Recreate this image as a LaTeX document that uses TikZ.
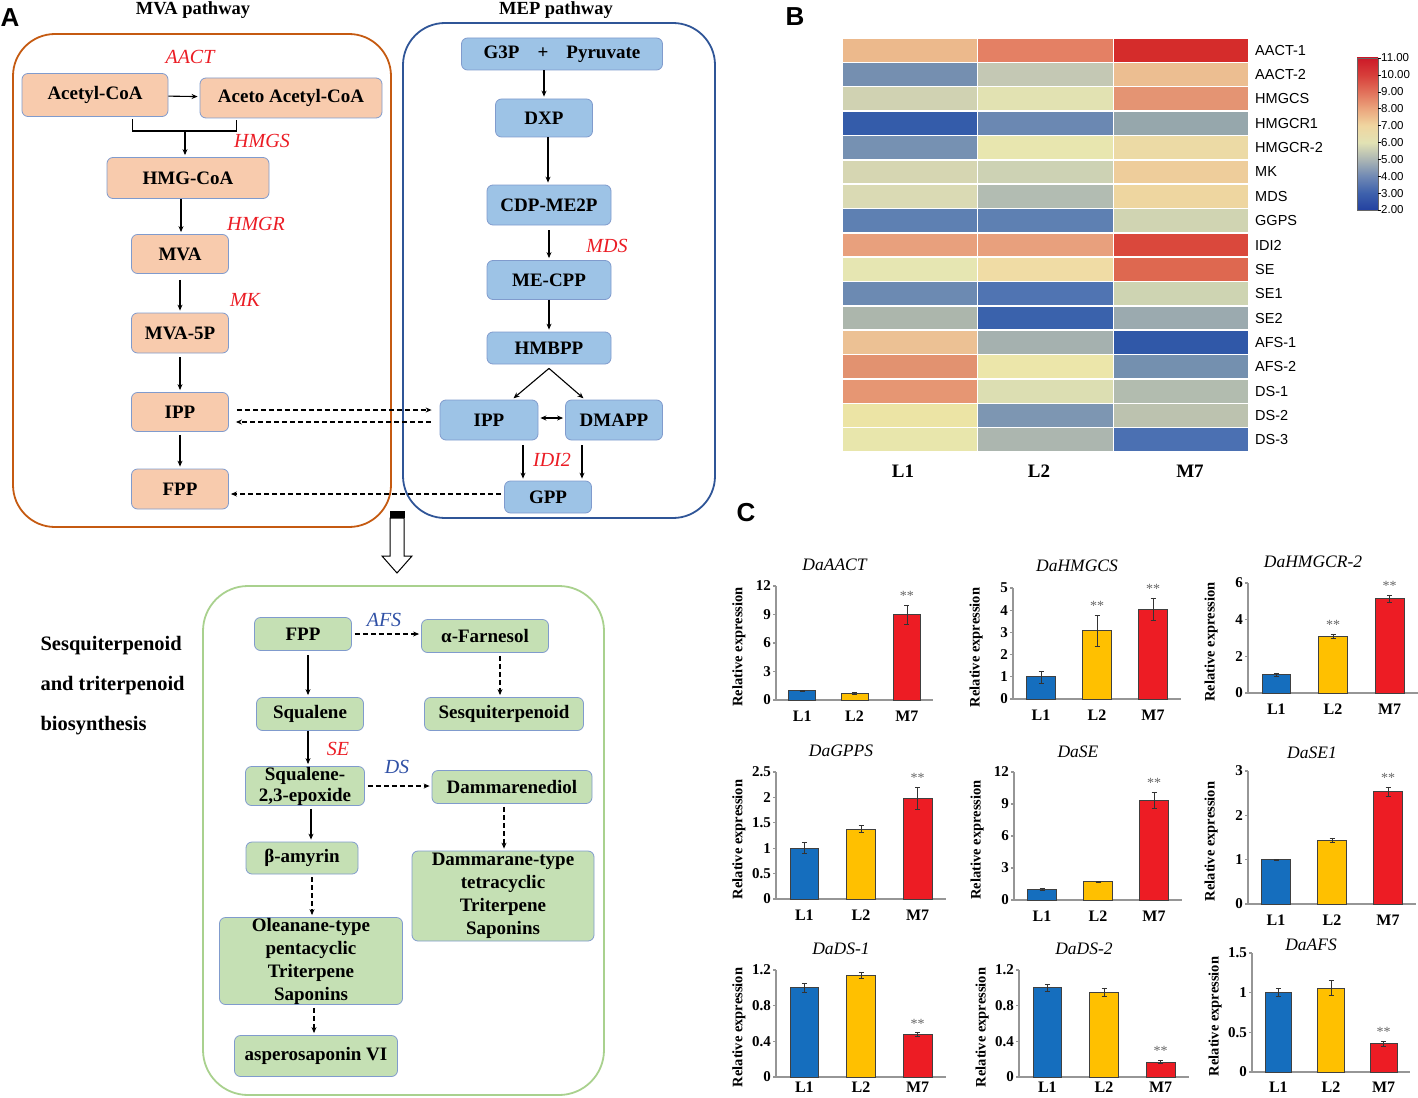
\documentclass[tikz,border=0pt]{standalone}
\usepackage{fontspec}
\setmainfont{Liberation Serif}
\newfontfamily\sansfont{Liberation Sans}
\usetikzlibrary{arrows.meta,positioning}

\definecolor{mvafill}{RGB}{248,203,173}
\definecolor{mepfill}{RGB}{157,195,230}
\definecolor{terpfill}{RGB}{197,224,180}
\definecolor{boxline}{RGB}{128,155,205}
\definecolor{mvaline}{RGB}{197,90,17}
\definecolor{mepline}{RGB}{47,85,151}
\definecolor{terpline}{RGB}{169,209,142}
\definecolor{enzred}{RGB}{235,28,36}
\definecolor{enzblue}{RGB}{47,80,165}
\definecolor{barblue}{RGB}{21,110,190}
\definecolor{baryellow}{RGB}{255,192,0}
\definecolor{barred}{RGB}{237,28,36}
\definecolor{axisgray}{RGB}{150,150,150}

% colour bar of the heat map
\definecolor{cbii}{RGB}{35,65,160}
\definecolor{cbiii}{RGB}{62,97,172}
\definecolor{cbiv}{RGB}{112,137,180}
\definecolor{cbv}{RGB}{172,182,180}
\definecolor{cbvi}{RGB}{226,226,180}
\definecolor{cbvii}{RGB}{240,214,160}
\definecolor{cbviii}{RGB}{235,165,125}
\definecolor{cbix}{RGB}{225,112,90}
\definecolor{cbx}{RGB}{215,62,58}
\definecolor{cbxi}{RGB}{205,25,40}
\pgfdeclareverticalshading{heatbar}{100bp}{color(0bp)=(cbii); color(25bp)=(cbii);
  color(30.56bp)=(cbiii); color(36.11bp)=(cbiv); color(41.67bp)=(cbv);
  color(47.22bp)=(cbvi); color(52.78bp)=(cbvii); color(58.33bp)=(cbviii);
  color(63.89bp)=(cbix); color(69.44bp)=(cbx); color(75bp)=(cbxi); color(100bp)=(cbxi)}

% one row of the heat map
\newcommand{\hrow}[5]{%
  \definecolor{hA}{RGB}{#3}\definecolor{hB}{RGB}{#4}\definecolor{hC}{RGB}{#5}%
  \pgfmathsetmacro\hy{38+24.35*(#1-1)}%
  \filldraw[hcell, fill=hA] (842,\hy) rectangle ++(135.67,24.35);
  \filldraw[hcell, fill=hB] (977.67,\hy) rectangle ++(135.67,24.35);
  \filldraw[hcell, fill=hC] (1113.33,\hy) rectangle ++(135.67,24.35);
  \node[hlab] (gene#1) at (1253,\hy+12.2) {#2};
}

% axes of one bar chart: x0, base, top, length, max, ticks, title, title y
\newcommand{\chartaxes}[8]{%
  \def\cx{#1}\def\cb{#2}\def\ct{#3}\def\cl{#4}\def\cm{#5}%
  \draw[axisline] (#1,#3) -- (#1,#2) -- (#1+#4,#2);
  \foreach \tk in {#6}{%
    \draw[axisline] (#1,{#2-(#2-#3)*\tk/#5}) -- ++(-3,0);
    \node[ticklab] at (#1-4,{#2-(#2-#3)*\tk/#5}) {\tk};
  }%
  \foreach \lab [count=\k] in {L1,L2,M7}{%
    \node[xlab] at ({#1+#4*(2*\k-1)/6},{min(#2+16,1087)}) {\lab};
  }%
  \node[ylab] at (#1-37,{(#2+#3)/2+4}) {Relative expression};
  \node[charttitle] at ({#1+(#4-40)/2},#8) {#7};
}

% one bar: slot, value, error, colour, stars
\newcommand{\chartbar}[5]{%
  \pgfmathsetmacro\bx{\cx+\cl*(2*#1-1)/6}%
  \pgfmathsetmacro\by{\cb-(\cb-\ct)*#2/\cm}%
  \pgfmathsetmacro\be{(\cb-\ct)*#3/\cm}%
  \pgfmathsetmacro\bw{\cl*0.085}%
  \filldraw[bar, fill=#4] (\bx-\bw,\cb) rectangle (\bx+\bw,\by);
  \draw[errbar] (\bx,\by-\be) -- (\bx,\by+\be);
  \draw[errbar] (\bx-2.5,\by-\be) -- (\bx+2.5,\by-\be);
  \draw[errbar] (\bx-2.5,\by+\be) -- (\bx+2.5,\by+\be);
  \if\relax\detokenize{#5}\relax\else
    \node[stars] at (\bx,\by-\be-9) {#5};
  \fi
}

\begin{document}
\begin{tikzpicture}[x=1pt,y=-1pt]

\tikzset{
  box/.style={draw=boxline, line width=0.8pt, rounded corners=6pt, inner sep=0pt,
    align=center, font=\fontsize{19}{23}\selectfont\bfseries},
  mvabox/.style={box, fill=mvafill},
  mepbox/.style={box, fill=mepfill},
  terpbox/.style={box, fill=terpfill},
  enz/.style={font=\fontsize{20}{22}\selectfont\itshape, text=enzred},
  enzb/.style={enz, text=enzblue},
  arr/.style={line width=1.1pt, -{Stealth[length=6pt,width=5pt]}, shorten >=2pt},
  darr/.style={line width=1.1pt, dash pattern=on 5pt off 3pt,
    -{Stealth[length=6pt,width=5pt]}, shorten >=2pt, shorten <=3pt},
  frame/.style={line width=1.8pt, rounded corners=42pt},
  panel/.style={font=\sansfont\fontsize{26}{28}\selectfont\bfseries},
  pathtitle/.style={font=\fontsize{18.5}{20}\selectfont\bfseries},
  hcell/.style={draw=white, line width=1.5pt},
  hlab/.style={anchor=west, inner sep=2pt, font=\sansfont\fontsize{14.5}{16}\selectfont},
  collab/.style={font=\fontsize{19}{21}\selectfont\bfseries},
  cblab/.style={anchor=west, inner sep=1pt, font=\sansfont\fontsize{11.5}{12}\selectfont},
  axisline/.style={draw=axisgray, line width=1.2pt},
  ticklab/.style={anchor=east, inner sep=1pt, font=\fontsize{15}{16}\selectfont\bfseries},
  xlab/.style={font=\fontsize{16}{17}\selectfont\bfseries},
  ylab/.style={rotate=90, font=\fontsize{14.5}{15}\selectfont\bfseries},
  charttitle/.style={font=\fontsize{17.5}{19}\selectfont\itshape},
  bar/.style={draw=black!75, line width=0.7pt},
  errbar/.style={line width=0.6pt, draw=black!80},
  stars/.style={text=black!60, font=\fontsize{14}{15}\selectfont}
}

\useasboundingbox (0,0) rectangle (1418,1097);

% ---------- A ----------
\node[panel] (panA) at (10,18) {A};
\node[pathtitle] (mvatitle) at (193,10) {MVA pathway};
\node[pathtitle] (meptitle) at (556,10) {MEP pathway};

\draw[frame, draw=mvaline] (13,34) rectangle (391,527);
\draw[frame, draw=mepline] (403,23) rectangle (715,518);

% MVA pathway
\node[mvabox, minimum width=146, minimum height=43] (acetyl) at (95,95) {Acetyl-CoA};
\node[mvabox, minimum width=182, minimum height=40] (aceto) at (291,98) {Aceto Acetyl-CoA};
\node[mvabox, minimum width=162, minimum height=41] (hmgcoa) at (188,178) {HMG-CoA};
\node[mvabox, minimum width=97, minimum height=39] (mva) at (180,254) {MVA};
\node[mvabox, minimum width=97, minimum height=40] (mva5p) at (180,333) {MVA-5P};
\node[mvabox, minimum width=97, minimum height=39] (ippa) at (180,412) {IPP};
\node[mvabox, minimum width=97, minimum height=40] (fppa) at (180,489) {FPP};

\node[enz] (aact) at (190,57) {AACT};
\node[enz] (hmgs) at (262,141) {HMGS};
\node[enz] (hmgr) at (256,224) {HMGR};
\node[enz] (mk) at (245,300) {MK};

\draw[arr] (acetyl) -- (aceto);
\coordinate (brk) at (185,131);
\draw[line width=1.1pt] ([xshift=-36pt,yshift=-2pt]acetyl.south east) |- (brk)
  -| ([xshift=-146pt,yshift=-2pt]aceto.south east);
\draw[arr] (brk) -- (brk |- hmgcoa.north);
\draw[arr] (hmgcoa.south -| 181,0) -- (181,0 |- mva.north);
\draw[arr] ([yshift=-6pt]mva.south) -- (mva5p);
\draw[arr] ([yshift=-4pt]mva5p.south) -- (ippa);
\draw[arr] ([yshift=-3pt]ippa.south) -- (fppa);

% MEP pathway
\node[mepbox, minimum width=201, minimum height=32] (g3p) at (562,54) {G3P\hspace{18pt}+\hspace{18pt}Pyruvate};
\node[mepbox, minimum width=97, minimum height=38] (dxp) at (544,118) {DXP};
\node[mepbox, minimum width=124, minimum height=40] (cdp) at (549,205) {CDP-ME2P};
\node[mepbox, minimum width=124, minimum height=39] (mecpp) at (549,280) {ME-CPP};
\node[mepbox, minimum width=124, minimum height=32] (hmbpp) at (549,348) {HMBPP};
\node[mepbox, minimum width=98, minimum height=40] (ippb) at (489,420) {IPP};
\node[mepbox, minimum width=97, minimum height=40] (dmapp) at (614,420) {DMAPP};
\node[mepbox, minimum width=87, minimum height=32] (gpp) at (548,497) {GPP};

\node[enz] (mds) at (607,246) {MDS};
\node[enz] (idi) at (552,460) {IDI2};

\draw[arr] (g3p.south -| dxp.north) -- (dxp.north);
\draw[arr] ([xshift=4pt]dxp.south) -- ([xshift=4pt]dxp.south |- cdp.north);
\draw[arr] ([yshift=-5pt]cdp.south) -- (mecpp);
\draw[arr] (mecpp) -- (hmbpp);
\coordinate (split) at ([yshift=-4pt]hmbpp.south);
\draw[arr] (split) -- ([xshift=23pt]ippb.north);
\draw[arr] (split) -- ([xshift=-29pt]dmapp.north);
\draw[line width=1.1pt, {Stealth[length=6pt,width=5pt]}-{Stealth[length=6pt,width=5pt]},
  shorten <=2pt, shorten >=2pt] ([yshift=2pt]ippb.east) -- ([yshift=2pt]dmapp.west);
\draw[arr] ([xshift=34pt,yshift=-5pt]ippb.south) -- ([xshift=34pt]ippb.south |- gpp.north);
\draw[arr] ([xshift=-32pt,yshift=-5pt]dmapp.south) -- ([xshift=-32pt]dmapp.south |- gpp.north);

% exchange between the two pathways
\draw[darr] ([xshift=5pt,yshift=2pt]ippa.east) -- ([xshift=-6pt,yshift=2pt]ippa.east -| ippb.west);
\draw[darr] ([xshift=-6pt,yshift=-10pt]ippa.east -| ippb.west) -- ([xshift=5pt,yshift=-10pt]ippa.east);
\draw[darr] ([yshift=3pt]gpp.west) -- ([yshift=3pt]gpp.west -| fppa.east);

% down to the terpenoid box
\draw[fill=white, line width=1pt] (390,518) -- (404,518) -- (404,556) -- (412,556)
  -- (397,573) -- (382,556) -- (390,556) -- cycle;
\fill (389.5,511) rectangle (404.5,518);

\draw[frame, draw=terpline, rounded corners=45pt] (203,586) rectangle (604,1095);
\node[align=left, anchor=west, font=\fontsize{20.5}{40}\selectfont\bfseries] (sidelab) at (37,686)
  {Sesquiterpenoid\\and triterpenoid\\biosynthesis};

\node[terpbox, minimum width=97, minimum height=33] (fppc) at (303,634) {FPP};
\node[terpbox, minimum width=127, minimum height=33] (farnesol) at (485,636) {α-Farnesol};
\node[terpbox, minimum width=107, minimum height=33] (squalene) at (310,714) {Squalene};
\node[terpbox, minimum width=159, minimum height=33] (sesqui) at (504,714) {Sesquiterpenoid};
\node[terpbox, minimum width=119, minimum height=39, font=\fontsize{19}{21}\selectfont\bfseries] (epox) at (305,786) {Squalene-\\2,3-epoxide};
\node[terpbox, minimum width=160, minimum height=33] (dammdiol) at (512,787) {Dammarenediol};
\node[terpbox, minimum width=112, minimum height=32] (amyrin) at (302,858) {β-amyrin};
\node[terpbox, minimum width=182, minimum height=90] (dammtype) at (503,896) {Dammarane-type\\tetracyclic\\Triterpene\\Saponins};
\node[terpbox, minimum width=183, minimum height=87] (oleantype) at (311,961) {Oleanane-type\\pentacyclic\\Triterpene\\Saponins};
\node[terpbox, minimum width=163, minimum height=41] (aspero) at (316,1056) {asperosaponin VI};

\node[enzb] (afs) at (384,620) {AFS};
\node[enz] (se) at (338,749) {SE};
\node[enzb] (ds) at (397,767) {DS};

\draw[arr] ([xshift=5pt,yshift=-4pt]fppc.south) -- ([xshift=5pt]fppc.south |- squalene.north);
\draw[arr] ([xshift=-2pt]squalene.south) -- ([xshift=-2pt]squalene.south |- epox.north);
\draw[arr] ([xshift=6pt,yshift=-3pt]epox.south) -- ([xshift=6pt]epox.south |- amyrin.north);
\draw[darr] (fppc.east) -- (fppc.east -| farnesol.west);
\draw[darr] ([xshift=15pt]farnesol.south) -- ([xshift=15pt]farnesol.south |- sesqui.north);
\draw[darr] (epox.east) -- (epox.east -| dammdiol.west);
\draw[darr] ([xshift=-8pt]dammdiol.south) -- ([xshift=-8pt]dammdiol.south |- dammtype.north);
\draw[darr] ([xshift=10pt]amyrin.south) -- ([xshift=10pt]amyrin.south |- oleantype.north);
\draw[darr] ([xshift=3pt]oleantype.south) -- ([xshift=3pt]oleantype.south |- aspero.north);

% ---------- B ----------
\node[panel] (panB) at (795,17) {B};
\hrow{1}{AACT-1}{236,185,140}{228,128,100}{213,44,43}
\hrow{2}{AACT-2}{117,143,176}{196,200,180}{236,190,145}
\hrow{3}{HMGCS}{208,210,178}{226,226,178}{228,148,115}
\hrow{4}{HMGCR1}{52,92,170}{107,136,178}{150,167,172}
\hrow{5}{HMGCR-2}{118,145,178}{232,230,175}{236,218,165}
\hrow{6}{MK}{214,214,178}{205,210,180}{238,205,155}
\hrow{7}{MDS}{218,218,180}{178,188,178}{238,214,160}
\hrow{8}{GGPS}{94,128,178}{94,128,178}{208,212,178}
\hrow{9}{IDI2}{232,160,125}{232,160,125}{218,72,60}
\hrow{10}{SE}{230,230,178}{240,220,165}{222,104,80}
\hrow{11}{SE1}{108,138,178}{80,116,178}{206,212,178}
\hrow{12}{SE2}{172,182,172}{58,98,172}{155,170,175}
\hrow{13}{AFS-1}{236,193,148}{165,177,175}{48,88,168}
\hrow{14}{AFS-2}{226,146,112}{236,230,170}{116,144,175}
\hrow{15}{DS-1}{230,150,115}{220,222,178}{178,188,175}
\hrow{16}{DS-2}{236,228,165}{125,150,178}{188,194,175}
\hrow{17}{DS-3}{232,230,172}{172,182,175}{75,112,178}

\node[collab] (colL1) at (903,471) {L1};
\node[collab] (colL2) at (1039,471) {L2};
\node[collab] (colM7) at (1190,471) {M7};

\shade[shading=heatbar] (1357,58) rectangle (1378,210);
\draw[line width=0.5pt, draw=black!60] (1357,58) rectangle (1378,210);
\foreach \v in {2,...,11}{
  \draw[line width=0.5pt] (1378,{210-(\v-2)*152/9}) -- ++(3,0);
  \node[cblab] at (1380,{210-(\v-2)*152/9}) {\v.00};
}

% ---------- C ----------
\node[panel] (panC) at (746,513) {C};

\chartaxes{776}{700}{586}{157}{12}{0,3,6,9,12}{DaAACT}{565}
\chartbar{1}{1.0}{0.05}{barblue}{}
\chartbar{2}{0.7}{0.06}{baryellow}{}
\chartbar{3}{9.0}{1.0}{barred}{**}

\chartaxes{1013}{699}{588}{168}{5}{0,1,2,3,4,5}{DaHMGCS}{566}
\chartbar{1}{1.0}{0.27}{barblue}{}
\chartbar{2}{3.08}{0.7}{baryellow}{**}
\chartbar{3}{4.05}{0.5}{barred}{**}

\chartaxes{1248}{693}{583}{170}{6}{0,2,4,6}{DaHMGCR-2}{562}
\chartbar{1}{1.0}{0.08}{barblue}{}
\chartbar{2}{3.1}{0.12}{baryellow}{**}
\chartbar{3}{5.15}{0.2}{barred}{**}

\chartaxes{776}{899}{772}{170}{2.5}{0,0.5,1,1.5,2,2.5}{DaGPPS}{751}
\chartbar{1}{1.0}{0.11}{barblue}{}
\chartbar{2}{1.38}{0.07}{baryellow}{}
\chartbar{3}{1.98}{0.22}{barred}{**}

\chartaxes{1014}{900}{772}{168}{12}{0,3,6,9,12}{DaSE}{752}
\chartbar{1}{1.0}{0.08}{barblue}{}
\chartbar{2}{1.72}{0.05}{baryellow}{}
\chartbar{3}{9.35}{0.75}{barred}{**}

\chartaxes{1248}{904}{771}{168}{3}{0,1,2,3}{DaSE1}{753}
\chartbar{1}{1.0}{0.01}{barblue}{}
\chartbar{2}{1.44}{0.05}{baryellow}{}
\chartbar{3}{2.54}{0.1}{barred}{**}

\chartaxes{776}{1077}{970}{170}{1.2}{0,0.4,0.8,1.2}{DaDS-1}{949}
\chartbar{1}{1.0}{0.05}{barblue}{}
\chartbar{2}{1.14}{0.03}{baryellow}{}
\chartbar{3}{0.48}{0.02}{barred}{**}

\chartaxes{1019}{1077}{970}{170}{1.2}{0,0.4,0.8,1.2}{DaDS-2}{949}
\chartbar{1}{1.0}{0.04}{barblue}{}
\chartbar{2}{0.95}{0.05}{baryellow}{}
\chartbar{3}{0.17}{0.02}{barred}{**}

\chartaxes{1252}{1072}{953}{158}{1.5}{0,0.5,1,1.5}{DaAFS}{945}
\chartbar{1}{1.0}{0.05}{barblue}{}
\chartbar{2}{1.06}{0.09}{baryellow}{}
\chartbar{3}{0.36}{0.03}{barred}{**}

\end{tikzpicture}
\end{document}
